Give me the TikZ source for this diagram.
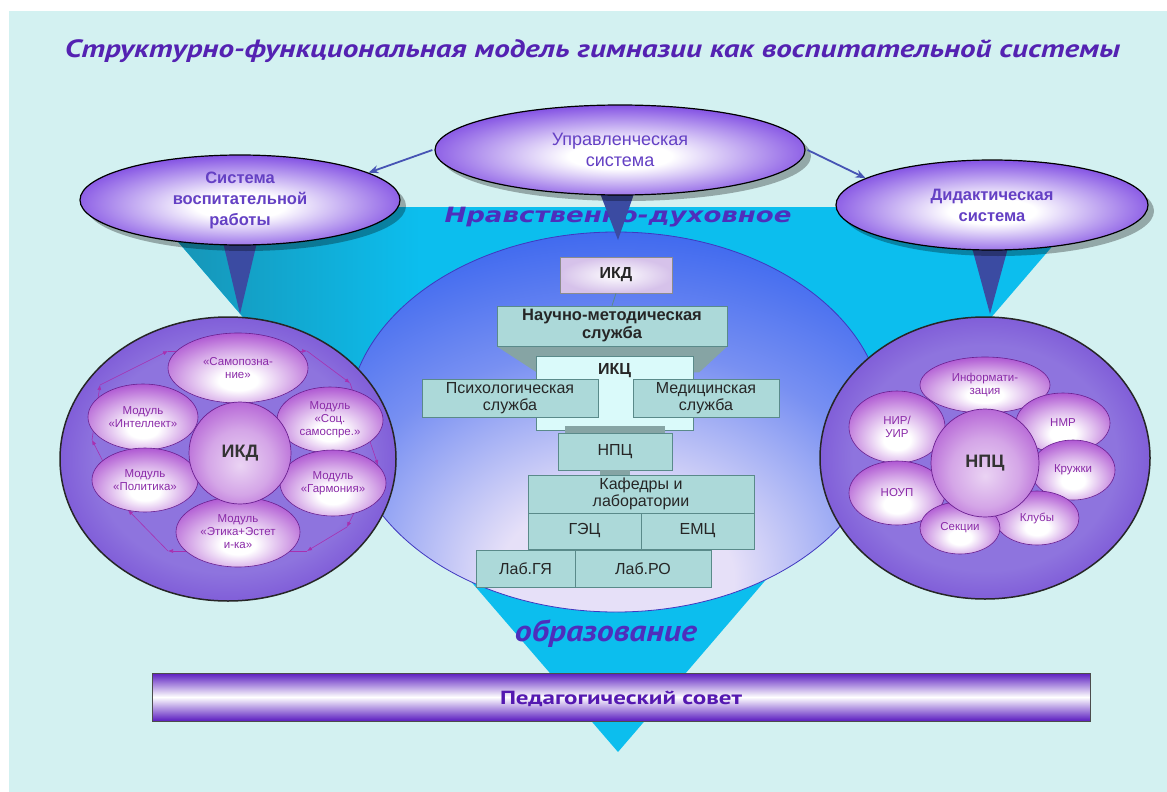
\documentclass[tikz,border=0pt]{standalone}
\usepackage{fontspec}
\setmainfont{Liberation Sans}
\newfontfamily\ptsans{PT Sans}
\newfontfamily\djv{DejaVu Sans}
\usetikzlibrary{shapes.geometric,shadows,arrows.meta}
\definecolor{bgc}{HTML}{D3F1F1}
\definecolor{titlec}{HTML}{5422B2}
\definecolor{cyanA}{HTML}{0CBEEE}
\definecolor{tealA}{HTML}{1890B0}
\definecolor{vio}{HTML}{6A2EDE}
\definecolor{elltext}{HTML}{6440C4}
\definecolor{blueA}{HTML}{2C5CEE}
\definecolor{blueM}{HTML}{7890F2}
\definecolor{lavA}{HTML}{E6E0F8}
\definecolor{ptrc}{HTML}{3B4BA2}
\definecolor{ringIn}{HTML}{8E74DE}
\definecolor{ringOut}{HTML}{5E26CA}
\definecolor{bubc}{HTML}{A038CA}
\definecolor{bubline}{HTML}{6A2090}
\definecolor{bubtext}{HTML}{8A2AA8}
\definecolor{boxc}{HTML}{ACD9D9}
\definecolor{boxline}{HTML}{5A8A8A}
\definecolor{ikcfill}{HTML}{DAFAFA}
\definecolor{shadc}{HTML}{86A4A4}
\definecolor{ikdfill}{HTML}{D6C2EA}
\definecolor{octc}{HTML}{A830B0}
\definecolor{arrc}{HTML}{4654B4}
\definecolor{pedc}{HTML}{5A1CC0}
\definecolor{pedtext}{HTML}{5418B0}
\definecolor{bluel}{HTML}{4038C0}
\definecolor{funtext}{HTML}{4E2EBC}
\pgfdeclareradialshading{ellsh}{\pgfpoint{0bp}{-4bp}}{color(0bp)=(white); color(7bp)=(white); color(19bp)=(vio!50!white); color(31bp)=(vio); color(50bp)=(vio!88!black)}
\pgfdeclareradialshading{bluesh}{\pgfpoint{0bp}{-24bp}}{color(0bp)=(lavA); color(11bp)=(lavA); color(26bp)=(blueM); color(42bp)=(blueA); color(80bp)=(blueA)}
\pgfdeclareradialshading{ringsh}{\pgfpoint{0bp}{0bp}}{color(0bp)=(ringIn); color(20bp)=(ringIn); color(38bp)=(ringOut); color(50bp)=(ringOut)}
\pgfdeclareradialshading{bubsh}{\pgfpoint{0bp}{-10bp}}{color(0bp)=(white); color(7bp)=(white); color(20bp)=(bubc!45!white); color(35bp)=(bubc); color(70bp)=(bubc)}
\pgfdeclareradialshading{cirsh}{\pgfpoint{0bp}{-6bp}}{color(0bp)=(bubc!22!white); color(16bp)=(bubc!45!white); color(38bp)=(bubc); color(60bp)=(bubc)}
\newcommand{\fitw}[2]{\resizebox{#1}{\height}{#2}}
\begin{document}
\begin{tikzpicture}[x=1pt,y=-1pt,
  bigell/.style={ellipse, draw=black, line width=1.2pt, shading=ellsh, inner sep=0pt, align=center, text=elltext,
    drop shadow={shadow xshift=6pt, shadow yshift=-6pt, opacity=0.3, fill=black}},
  ring/.style={ellipse, draw=black!85, line width=1.5pt, shading=ringsh, inner sep=0pt},
  bub/.style={ellipse, draw=bubline, line width=0.6pt, shading=bubsh, inner sep=0pt, align=center, text=bubtext, font=\fontsize{11.5}{13}\selectfont},
  hub/.style={circle, draw=bubline, line width=0.7pt, shading=cirsh, inner sep=0pt, font=\bfseries\fontsize{18}{20}\selectfont, text=black!80},
  cbox/.style={rectangle, draw=boxline, line width=0.6pt, fill=boxc, inner sep=0pt, align=center, text=black!85, font=\fontsize{16}{17}\selectfont},
  ocar/.style={draw=octc, line width=0.6pt, -{Latex[length=5pt,width=4pt]}},
  linkar/.style={draw=arrc, line width=1.8pt, -{Stealth[length=10pt,width=8pt]}},
  ptr/.style={fill=ptrc}
]
\useasboundingbox (0,0) rectangle (1167,792);
% background
\fill[white] (0,0) rectangle (1167,792);
\fill[bgc] (9,11) rectangle (1167,792);

% cyan funnel
\coordinate (ftl) at (148,207);
\coordinate (ftr) at (1086,207);
\coordinate (fap) at (618,752);
\coordinate (fsa) at (420,207);
\coordinate (fsb) at (420,522);
\fill[cyanA] (ftl) -- (ftr) -- (fap) -- cycle;
\shade[left color=tealA, right color=cyanA] (ftl) -- (fsa) -- (fsb) -- cycle;

% funnel labels
\node[anchor=base, text=funtext, font=\djv\bfseries\itshape\fontsize{21}{24}\selectfont] (nrav) at (618,222) {\fitw{347pt}{Нравственно-духовное}};
\node[anchor=base, text=funtext, font=\ptsans\bfseries\itshape\fontsize{30}{32}\selectfont] (obr) at (606,641) {\fitw{182pt}{образование}};

% core ellipse
\node[ellipse, minimum width=536pt, minimum height=380pt, shading=bluesh, draw=bluel, line width=0.8pt] (core) at (616,422) {};

% pointers
\fill[ptr] (598,188) -- (636,188) -- (618,240) -- cycle;
\fill[ptr] (222,238) -- (258,238) -- (240,314) -- cycle;
\fill[ptr] (971,244) -- (1009,244) -- (990,314) -- cycle;

% top ellipses
\node[bigell, minimum width=370pt, minimum height=90pt, font=\fontsize{18}{21}\selectfont] (upr) at (620,150) {Управленческая\\система};
\node[bigell, minimum width=320pt, minimum height=90pt, font=\bfseries\fontsize{16.5}{21}\selectfont] (vr) at (240,200) {Система\\воспитательной\\работы};
\node[bigell, minimum width=312pt, minimum height=90pt, font=\bfseries\fontsize{16.5}{21}\selectfont] (dr) at (992,205) {Дидактическая\\система};
\draw[linkar] ([xshift=-2pt]upr.west) -- (vr.12);
\draw[linkar] ([xshift=2pt]upr.east) -- (dr.168);

% left ring
\node[ring, minimum width=336pt, minimum height=284pt] (lring) at (228,459) {};
\coordinate (o1) at (168,351);
\coordinate (o2) at (307,351);
\coordinate (o3) at (350,383);
\coordinate (o4) at (378,465);
\coordinate (o5) at (347,527);
\coordinate (o6) at (307,551);
\coordinate (o7) at (168,551);
\coordinate (o8) at (128,510);
\coordinate (o9) at (92,440);
\coordinate (o10) at (100,385);
\draw[ocar] (o1) -- (o2);
\draw[ocar] (o2) -- (o3);
\draw[ocar] (o3) -- (o4);
\draw[ocar] (o4) -- (o5);
\draw[ocar] (o5) -- (o6);
\draw[ocar] (o6) -- (o7);
\draw[ocar] (o7) -- (o8);
\draw[ocar] (o8) -- (o9);
\draw[ocar] (o9) -- (o10);
\draw[ocar] (o10) -- (o1);
\node[bub, minimum width=140pt, minimum height=70pt] (sam) at (238,368) {«Самопозна-\\ние»};
\node[bub, minimum width=110pt, minimum height=66pt] (intl) at (143,417) {Модуль\\«Интеллект»};
\node[bub, minimum width=106pt, minimum height=66pt] (soc) at (330,420) {Модуль\\«Соц.\\самоспре.»};
\node[bub, minimum width=106pt, minimum height=64pt] (pol) at (145,480) {Модуль\\«Политика»};
\node[bub, minimum width=106pt, minimum height=66pt] (garm) at (333,483) {Модуль\\«Гармония»};
\node[bub, minimum width=124pt, minimum height=70pt] (etk) at (238,532) {Модуль\\«Этика+Эстет\\и-ка»};
\node[hub, minimum size=102pt] (ikdc) at (240,453) {ИКД};

% right ring
\node[ring, minimum width=330pt, minimum height=282pt] (rring) at (985,458) {};
\node[bub, minimum width=130pt, minimum height=56pt] (inf) at (985,385) {Информати-\\зация};
\node[bub, minimum width=96pt, minimum height=72pt] (nir) at (897,427) {НИР/\\УИР};
\node[bub, minimum width=94pt, minimum height=60pt] (nmr) at (1063,423) {НМР};
\node[bub, minimum width=84pt, minimum height=60pt] (krj) at (1073,470) {Кружки};
\node[bub, minimum width=96pt, minimum height=64pt] (noup) at (897,493) {НОУП};
\node[bub, minimum width=84pt, minimum height=54pt] (klb) at (1037,518) {Клубы};
\node[bub, minimum width=80pt, minimum height=52pt] (sek) at (960,528) {Секции};
\node[hub, minimum size=108pt] (npcc) at (985,463) {НПЦ};

% central structure
\node[cbox, draw=black!45, inner color=white, outer color=ikdfill, minimum width=112pt, minimum height=36pt, font=\bfseries\fontsize{16}{17}\selectfont] (ikd) at (616,275) {ИКД};
\node[cbox, minimum width=230pt, minimum height=40pt, font=\bfseries\fontsize{16.5}{18}\selectfont] (nms) at (612,326) {};
\draw[boxline, line width=0.8pt] (ikd.south) -- (nms.north);
\fill[shadc] (nms.south west) -- (nms.south east) -- ([xshift=-28pt,yshift=-26pt]nms.south east) -- ([xshift=40pt,yshift=-26pt]nms.south west) -- cycle;
\node[cbox, minimum width=230pt, minimum height=40pt, font=\bfseries\fontsize{16.5}{18}\selectfont] (nms) at (612,326) {Научно-методическая\\служба};
\node[cbox, fill=ikcfill, minimum width=157pt, minimum height=74pt] (ikc) at (614.5,393) {};
\node[font=\bfseries\fontsize{16}{17}\selectfont, text=black!85] (ikcl) at (614.5,371) {ИКЦ};
\node[cbox, minimum width=176pt, minimum height=38pt] (psy) at (510,398) {Психологическая\\служба};
\node[cbox, minimum width=146pt, minimum height=38pt] (med) at (706,398) {Медицинская\\служба};
\node[cbox, minimum width=114pt, minimum height=37pt] (npc) at (615,451.5) {НПЦ};
\fill[shadc] ([xshift=-50pt]npc.north) rectangle ([xshift=50pt,yshift=4pt]ikc.south);
\fill[shadc] ([xshift=-15pt]npc.south) rectangle ([xshift=15pt,yshift=-5pt]npc.south);
\node[cbox, minimum width=226pt, minimum height=38pt] (kaf) at (641,494) {Кафедры и\\лаборатории};
\node[cbox, minimum width=113pt, minimum height=36pt] (gec) at (584.5,531) {ГЭЦ};
\node[cbox, minimum width=113pt, minimum height=36pt] (emc) at (697.5,531) {ЕМЦ};
\node[cbox, minimum width=99pt, minimum height=37pt] (lgya) at (525.5,568.5) {Лаб.ГЯ};
\node[cbox, minimum width=136pt, minimum height=37pt] (lro) at (643,568.5) {Лаб.РО};

% pedagogical council bar
\node[rectangle, draw=black!70, line width=0.8pt, top color=pedc, bottom color=pedc, middle color=white, minimum width=938pt, minimum height=48pt, inner sep=0pt] (ped) at (621,697) {};
\node[anchor=base, text=pedtext, font=\ptsans\bfseries\fontsize{19}{21}\selectfont] (pedl) at (621,704) {\fitw{242pt}{Педагогический совет}};

% title
\node[anchor=base, text=titlec, font=\ptsans\bfseries\itshape\fontsize{25}{28}\selectfont] (title) at (592.5,58) {\fitw{1055pt}{Структурно-функциональная модель гимназии как воспитательной системы}};
\end{tikzpicture}
\end{document}
